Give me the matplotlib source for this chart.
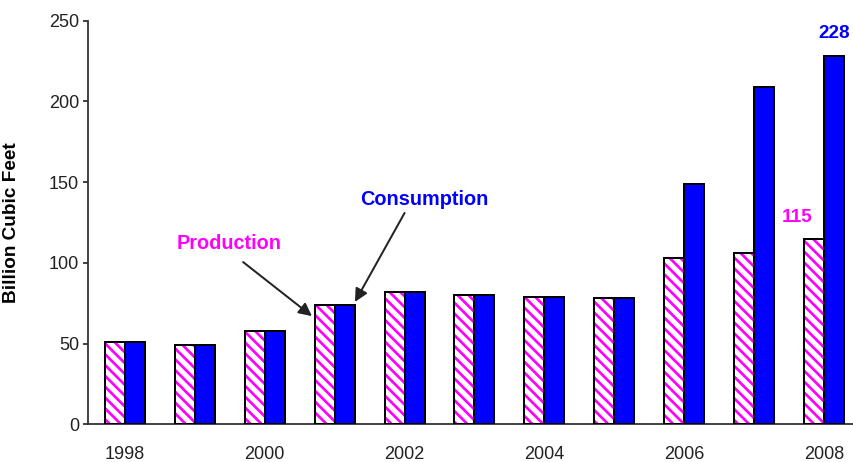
import matplotlib
matplotlib.use("Agg")
import matplotlib.pyplot as plt
import numpy as np

years = [1998, 1999, 2000, 2001, 2002, 2003, 2004, 2005, 2006, 2007, 2008]
production = [51, 49, 58, 74, 82, 80, 79, 78, 103, 106, 115]
consumption = [51, 49, 58, 74, 82, 80, 79, 78, 149, 209, 228]
tick_years = [1998, 2000, 2002, 2004, 2006, 2008]

MAGENTA = "#FF00FF"
BLUE = "#0000FF"

plt.rcParams["font.family"] = ["Liberation Sans", "DejaVu Sans"]
plt.rcParams["hatch.linewidth"] = 1.5

DPI = 130
fig = plt.figure(figsize=(853 / DPI, 462 / DPI), dpi=DPI)
ax = fig.add_axes([88 / 853, 1 - 424.3 / 462, 1 - 88 / 853, 403.6 / 462])

x = np.arange(len(years))
w = 0.286

# production: magenta stripes on white, then a black outline on top
ax.bar(x - w / 2, production, w, color="white", edgecolor=MAGENTA,
       hatch="\\\\\\\\", linewidth=0, zorder=2)
ax.bar(x - w / 2, production, w, fill=False, edgecolor="black",
       linewidth=1.1, zorder=3)
ax.bar(x + w / 2, consumption, w, color=BLUE, edgecolor="black",
       linewidth=1.1, zorder=3)

ax.set_xlim(-0.529, 10.415)
ax.set_ylim(0, 250)
ax.set_yticks(range(0, 251, 50))
ax.set_xticks([years.index(y) for y in tick_years])
ax.set_xticklabels([str(y) for y in tick_years])

for side in ["top", "right"]:
    ax.spines[side].set_visible(False)
for side in ["left", "bottom"]:
    ax.spines[side].set_color("#333333")
    ax.spines[side].set_linewidth(1.0)

ax.tick_params(axis="y", direction="out", length=2.8, width=1.0,
               color="#333333", pad=2.2, labelsize=10, labelcolor="#222222")
ax.tick_params(axis="x", length=0, pad=12, labelsize=10, labelcolor="#222222")

ax.set_ylabel("Billion Cubic Feet", fontsize=10.5, fontweight="bold")
ax.yaxis.set_label_coords(-0.089, 0.5)

# value labels on the last year
last = len(years) - 1
ax.annotate(str(consumption[last]), xy=(last + w / 2, consumption[last]),
            xytext=(0, 8), textcoords="offset points", ha="center",
            va="bottom", color=BLUE, fontsize=10.5, fontweight="bold")
ax.annotate(str(production[last]), xy=(last - w / 2, production[last]),
            xytext=(-9.4, 7), textcoords="offset points", ha="center",
            va="bottom", color=MAGENTA, fontsize=10.5, fontweight="bold")

# series callouts
arrow = dict(arrowstyle="-|>,head_length=0.6,head_width=0.3",
             mutation_scale=10, color="#222222", lw=1.1,
             shrinkA=0, shrinkB=0)
ax.annotate("", xy=(2.675, 67), xytext=(1.69, 100.5), arrowprops=arrow)
ax.annotate("", xy=(3.29, 75.8), xytext=(4.0, 130.9), arrowprops=arrow)
ax.text(1.495, 111.7, "Production", color=MAGENTA, fontsize=11,
        fontweight="bold", ha="center", va="center")
ax.text(4.285, 139, "Consumption", color=BLUE, fontsize=11,
        fontweight="bold", ha="center", va="center")

fig.savefig("out.png", dpi=DPI)
